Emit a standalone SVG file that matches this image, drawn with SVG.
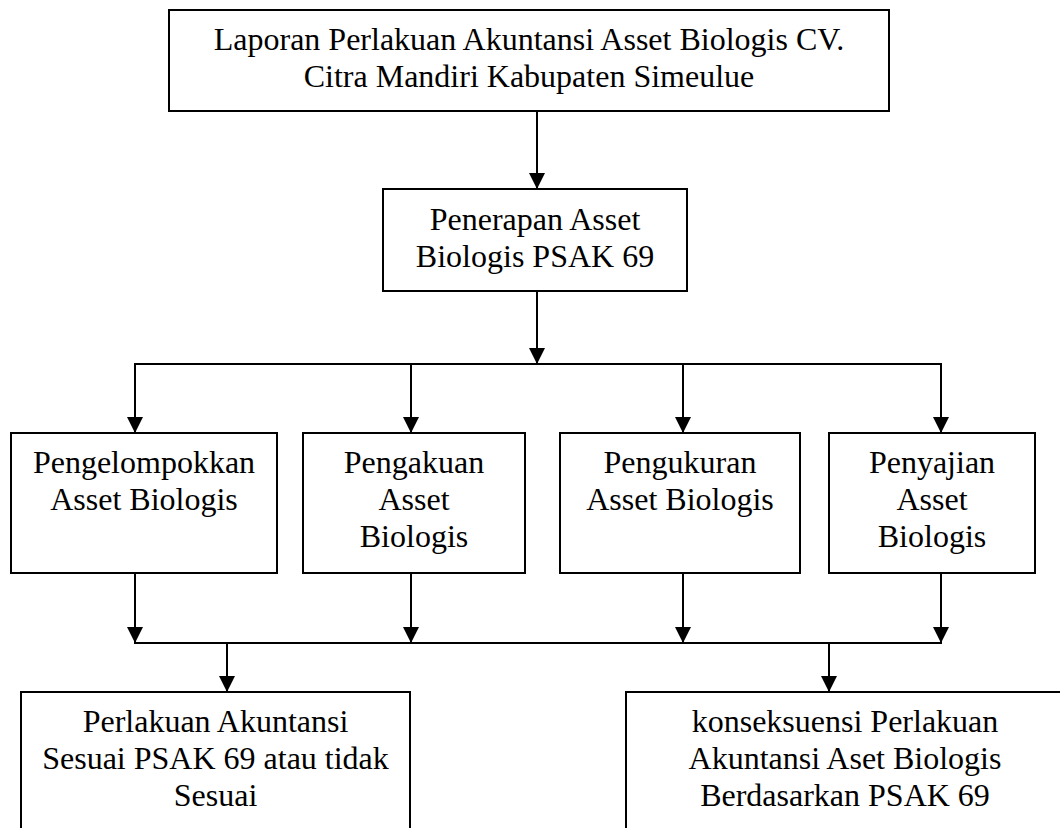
<svg xmlns="http://www.w3.org/2000/svg" width="1060" height="828" viewBox="0 0 1060 828">
<style>
.box{fill:#fff;stroke:#000;stroke-width:2}
.t{font-family:"Liberation Serif","Times New Roman",serif;font-size:32px;fill:#000;text-anchor:middle}
.ln{fill:none;stroke:#000;stroke-width:2}
</style>
<defs>
<marker id="arr" markerUnits="userSpaceOnUse" viewBox="0 0 16 16" refX="16" refY="8" markerWidth="16" markerHeight="16" orient="auto">
<path d="M0,0 L16,8 L0,16 z" fill="#000"/>
</marker>
</defs>
<rect width="1060" height="828" fill="#fff"/>
<g id="connectors">
<line class="ln" x1="537" y1="111" x2="537" y2="189" marker-end="url(#arr)"/>
<line class="ln" x1="537" y1="291" x2="537" y2="364" marker-end="url(#arr)"/>
<line class="ln" x1="134" y1="364" x2="942" y2="364"/>
<line class="ln" x1="135" y1="364" x2="135" y2="433" marker-end="url(#arr)"/>
<line class="ln" x1="411" y1="364" x2="411" y2="433" marker-end="url(#arr)"/>
<line class="ln" x1="683" y1="364" x2="683" y2="433" marker-end="url(#arr)"/>
<line class="ln" x1="941" y1="364" x2="941" y2="433" marker-end="url(#arr)"/>
<line class="ln" x1="135" y1="573" x2="135" y2="643" marker-end="url(#arr)"/>
<line class="ln" x1="411" y1="573" x2="411" y2="643" marker-end="url(#arr)"/>
<line class="ln" x1="683" y1="573" x2="683" y2="643" marker-end="url(#arr)"/>
<line class="ln" x1="941" y1="573" x2="941" y2="643" marker-end="url(#arr)"/>
<line class="ln" x1="134" y1="643" x2="942" y2="643"/>
<line class="ln" x1="227" y1="643" x2="227" y2="692" marker-end="url(#arr)"/>
<line class="ln" x1="829" y1="643" x2="829" y2="692" marker-end="url(#arr)"/>
</g>
<g id="top">
<rect class="box" x="169" y="10" width="720" height="101"/>
<text class="t" x="529" y="50">Laporan Perlakuan Akuntansi Asset Biologis CV.</text>
<text class="t" x="529" y="87">Citra Mandiri Kabupaten Simeulue</text>
</g>
<g id="penerapan">
<rect class="box" x="383" y="189" width="304" height="102"/>
<text class="t" x="535" y="230">Penerapan Asset</text>
<text class="t" x="535" y="267">Biologis PSAK 69</text>
</g>
<g id="pengelompokkan">
<rect class="box" x="11" y="433" width="266" height="140"/>
<text class="t" x="144" y="473">Pengelompokkan</text>
<text class="t" x="144" y="510">Asset Biologis</text>
</g>
<g id="pengakuan">
<rect class="box" x="303" y="433" width="222" height="140"/>
<text class="t" x="414" y="473">Pengakuan</text>
<text class="t" x="414" y="510">Asset</text>
<text class="t" x="414" y="547">Biologis</text>
</g>
<g id="pengukuran">
<rect class="box" x="560" y="433" width="240" height="140"/>
<text class="t" x="680" y="473">Pengukuran</text>
<text class="t" x="680" y="510">Asset Biologis</text>
</g>
<g id="penyajian">
<rect class="box" x="829" y="433" width="206" height="140"/>
<text class="t" x="932" y="473">Penyajian</text>
<text class="t" x="932" y="510">Asset</text>
<text class="t" x="932" y="547">Biologis</text>
</g>
<g id="perlakuan">
<rect class="box" x="21" y="692" width="389" height="150"/>
<text class="t" x="215.5" y="732">Perlakuan Akuntansi</text>
<text class="t" x="215.5" y="769">Sesuai PSAK 69 atau tidak</text>
<text class="t" x="215.5" y="806">Sesuai</text>
</g>
<g id="konseksuensi">
<rect class="box" x="626" y="692" width="438" height="150"/>
<text class="t" x="845" y="732">konseksuensi Perlakuan</text>
<text class="t" x="845" y="769">Akuntansi Aset Biologis</text>
<text class="t" x="845" y="806">Berdasarkan PSAK 69</text>
</g>
</svg>
